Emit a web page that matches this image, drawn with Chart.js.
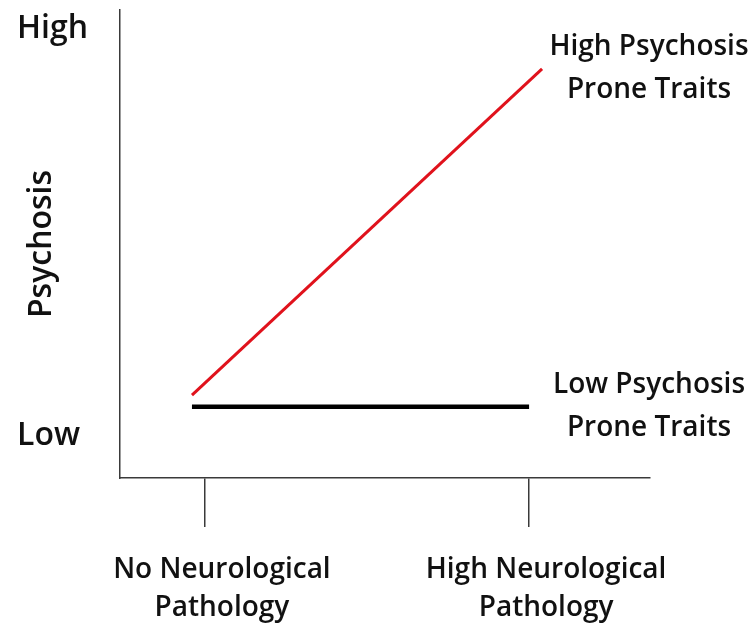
<!DOCTYPE html>
<html>
<head>
<meta charset="utf-8">
<script src="https://cdn.jsdelivr.net/npm/chart.js@4"></script>
<style>
  html, body { margin: 0; padding: 0; background: #fff; }
  #wrap { width: 750px; height: 627px; position: relative; }
</style>
</head>
<body>
<div id="wrap"><canvas id="sketch"></canvas></div>
<script>
// x: 0 = no pathology, 1 = high pathology
const xTickValues = [0, 1];
const xTickLabels = [["No Neurological", "Pathology"], ["High Neurological", "Pathology"]];

const yTickValues = [0.9, 9.6];
const yTickLabels = ["Low", "High"];
const yTitle = "Psychosis";

const highTraitX = [-0.04, 1.04];
const highTraitY = [1.77, 8.74];
const lowTraitX = [-0.04, 1.0];
const lowTraitY = [1.52, 1.52];

const seriesLabels = [["High Psychosis", "Prone Traits"], ["Low Psychosis", "Prone Traits"]];

const FONT = "'Open Sans', sans-serif";
const AXIS_COLOR = "#3a3a3a";

function toPoints(xs, ys) {
  return xs.map((x, i) => ({ x: x, y: ys[i] }));
}

// labels at the end of each line, centred on the right edge of the plot
const endLabels = {
  id: "endLabels",
  afterDatasetsDraw(chart) {
    const ctx = chart.ctx;
    ctx.save();
    ctx.font = "600 28px " + FONT;
    ctx.fillStyle = "#111";
    ctx.textAlign = "center";
    ctx.textBaseline = "middle";
    chart.data.datasets.forEach((ds, i) => {
      const meta = chart.getDatasetMeta(i);
      const last = meta.data[meta.data.length - 1];
      const lines = seriesLabels[i];
      const lh = 43;
      const x = chart.chartArea.right - 1;
      lines.forEach((t, j) => {
        ctx.fillText(t, x, last.y + (j - (lines.length - 1) / 2) * lh);
      });
    });
    ctx.restore();
  }
};

// rotated axis title sitting between the High / Low labels
const yAxisTitle = {
  id: "yAxisTitle",
  afterDraw(chart) {
    const ctx = chart.ctx;
    const area = chart.chartArea;
    ctx.save();
    ctx.font = "600 32px " + FONT;
    ctx.fillStyle = "#111";
    ctx.textAlign = "center";
    ctx.textBaseline = "middle";
    ctx.translate(area.left - 78, (area.top + area.bottom) / 2);
    ctx.rotate(-Math.PI / 2);
    ctx.fillText(yTitle, 0, 0);
    ctx.restore();
  }
};

new Chart(document.getElementById("sketch").getContext("2d"), {
  type: "line",
  data: {
    datasets: [
      {
        label: seriesLabels[0].join(" "),
        data: toPoints(highTraitX, highTraitY),
        borderColor: "#e0121c",
        borderWidth: 3,
        pointRadius: 0
      },
      {
        label: seriesLabels[1].join(" "),
        data: toPoints(lowTraitX, lowTraitY),
        borderColor: "#000000",
        borderWidth: 4.5,
        pointRadius: 0
      }
    ]
  },
  options: {
    responsive: true,
    maintainAspectRatio: false,
    animation: false,
    layout: { padding: { top: 10, left: 17, right: 100, bottom: 0 } },
    plugins: {
      legend: { display: false },
      tooltip: { enabled: false }
    },
    scales: {
      x: {
        type: "linear",
        min: -0.262,
        max: 1.373,
        afterBuildTicks: s => { s.ticks = xTickValues.map(v => ({ value: v })); },
        afterFit: s => { s.height = 149; s.paddingLeft = 0; s.paddingRight = 0; },
        border: { display: true, color: AXIS_COLOR, width: 1.5 },
        grid: {
          drawOnChartArea: false,
          drawTicks: true,
          tickLength: 49,
          tickColor: AXIS_COLOR,
          lineWidth: 1.5
        },
        ticks: {
          callback: (v, i) => xTickLabels[i],
          maxRotation: 0,
          autoSkip: false,
          padding: 24,
          labelOffset: 17,
          color: "#111",
          font: { family: FONT, size: 28, weight: "600", lineHeight: "38px" }
        }
      },
      y: {
        min: 0,
        max: 10,
        afterBuildTicks: s => { s.ticks = yTickValues.map(v => ({ value: v })); },
        afterFit: s => { s.width = 103; s.paddingTop = 0; s.paddingBottom = 0; },
        border: { display: true, color: AXIS_COLOR, width: 1.5 },
        grid: { drawOnChartArea: false, drawTicks: false },
        ticks: {
          callback: (v, i) => yTickLabels[i],
          crossAlign: "far",
          color: "#111",
          font: { family: FONT, size: 32, weight: "600" }
        }
      }
    }
  },
  plugins: [endLabels, yAxisTitle]
});
</script>
</body>
</html>
